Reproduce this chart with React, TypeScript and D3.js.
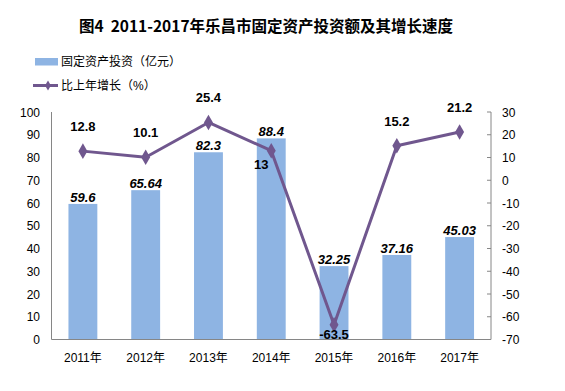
import * as d3 from "d3";

const years = ["2011年", "2012年", "2013年", "2014年", "2015年", "2016年", "2017年"];
const investment = [59.6, 65.64, 82.3, 88.4, 32.25, 37.16, 45.03];
const growth = [12.8, 10.1, 25.4, 13, -63.5, 15.2, 21.2];
const leftTicks = [0, 10, 20, 30, 40, 50, 60, 70, 80, 90, 100];
const rightTicks = [-70, -60, -50, -40, -30, -20, -10, 0, 10, 20, 30];

const W = 565;
const H = 391;
const margin = { top: 112, right: 74, bottom: 51.5, left: 51.5 };
const numFont = "'Liberation Sans', Arial, sans-serif";
const cjkFont = "'Liberation Sans', 'Noto Sans CJK SC', sans-serif";
const barColor = "#8EB4E3";
const lineColor = "#70578E";
const axisColor = "#868686";

export default function App() {
  const x0 = margin.left;
  const x1 = W - margin.right;
  const y0 = H - margin.bottom;
  const y1 = margin.top;

  const xScale = d3.scaleBand().domain(years).range([x0, x1]).paddingInner(0.54).paddingOuter(0.27);
  const yLeft = d3.scaleLinear().domain([0, 100]).range([y0, y1]);
  const yRight = d3.scaleLinear().domain([-70, 30]).range([y0, y1]);
  const cx = (i: number) => (xScale(years[i]) as number) + xScale.bandwidth() / 2;

  const line = d3
    .line<number>()
    .x((d, i) => cx(i))
    .y((d) => yRight(d));

  const diamond = d3.symbol().type(d3.symbolDiamond).size(70)();

  // label offsets for the growth line
  const growthLabel = (v: number, i: number) => {
    if (v === 13) return { dx: -10, dy: 18 };
    if (v < -50) return { dx: 0, dy: 14 };
    return { dx: 0, dy: -20 };
  };

  return (
    <svg width={W} height={H} style={{ position: "absolute", left: 0, top: 0, background: "#fff" }}>
      <text x={266} y={32} textAnchor="middle" fontFamily="'Noto Sans CJK SC', sans-serif" fontWeight="bold" fontSize={15.5} style={{ whiteSpace: "pre" }}>
        {"图4  2011-2017年乐昌市固定资产投资额及其增长速度"}
      </text>

      {/* legend */}
      <rect x={35} y={58} width={23} height={7.5} fill={barColor} />
      <text x={61} y={66} fontFamily={cjkFont} fontSize={12}>固定资产投资（亿元）</text>
      <line x1={33} x2={58} y1={85.5} y2={85.5} stroke={lineColor} strokeWidth={3} />
      <path d={d3.symbol().type(d3.symbolDiamond).size(30)() as string} transform="translate(48,85.5)" fill={lineColor} />
      <text x={61} y={90} fontFamily={cjkFont} fontSize={12}>比上年增长（%）</text>

      {/* bars */}
      {investment.map((v, i) => (
        <rect key={years[i]} x={xScale(years[i])} y={yLeft(v)} width={xScale.bandwidth()} height={y0 - yLeft(v)} fill={barColor} />
      ))}

      {/* axes */}
      <line x1={x0} x2={x0} y1={y1} y2={y0} stroke={axisColor} strokeWidth={1} />
      <line x1={x0} x2={x1} y1={y0} y2={y0} stroke={axisColor} strokeWidth={1} />
      <line x1={x1} x2={x1} y1={y1} y2={y0} stroke={axisColor} strokeWidth={1} />
      {rightTicks.map((t) => (
        <g key={t}>
          <line x1={x1 - 4} x2={x1} y1={yRight(t)} y2={yRight(t)} stroke={axisColor} />
          <text x={x1 + 11} y={yRight(t) + 4.5} fontFamily={numFont} fontSize={12} fill="#000">{t}</text>
        </g>
      ))}
      {leftTicks.map((t) => (
        <text key={t} x={40} y={yLeft(t) + 4.5} textAnchor="end" fontFamily={numFont} fontSize={12} fill="#000">{t}</text>
      ))}
      {years.map((y, i) => (
        <text key={y} x={cx(i)} y={362} textAnchor="middle" fontFamily={cjkFont} fontSize={12}>{y}</text>
      ))}

      {/* bar labels */}
      {investment.map((v, i) => (
        <text key={"b" + i} x={cx(i)} y={yLeft(v) - 2} textAnchor="middle" fontFamily={numFont} fontStyle="italic" fontWeight="bold" fontSize={13}>{v}</text>
      ))}

      {/* growth line */}
      <path d={line(growth) as string} fill="none" stroke={lineColor} strokeWidth={3} strokeLinejoin="round" />
      {growth.map((v, i) => (
        <path key={"m" + i} d={diamond as string} transform={`translate(${cx(i)},${yRight(v)})`} fill={lineColor} />
      ))}
      {growth.map((v, i) => {
        const o = growthLabel(v, i);
        return (
          <text key={"g" + i} x={cx(i) + o.dx} y={yRight(v) + o.dy} textAnchor="middle" fontFamily={numFont} fontWeight="bold" fontSize={13}>{v}</text>
        );
      })}
    </svg>
  );
}
